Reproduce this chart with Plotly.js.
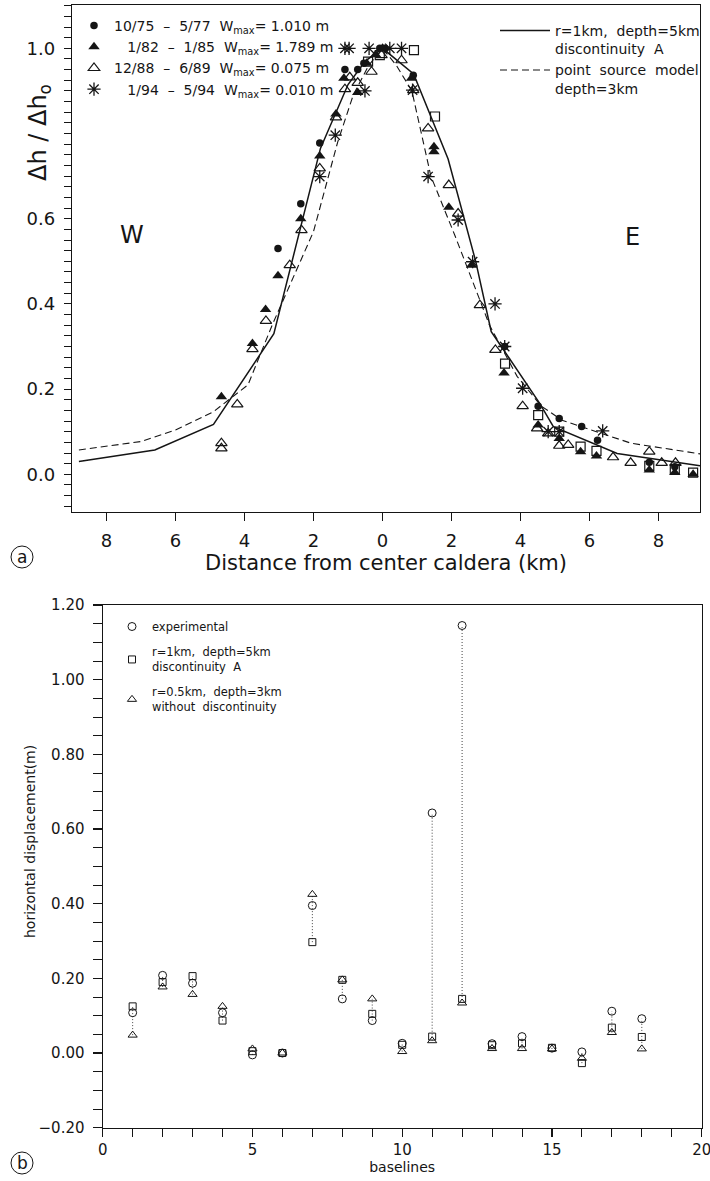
<!DOCTYPE html>
<html><head><meta charset="utf-8">
<script src="https://cdn.plot.ly/plotly-3.0.1.min.js"></script>
<style>html,body{margin:0;padding:0;background:#fff}</style>
</head><body><div id="chart" style="width:710px;height:1181px"></div>
<script>
// ---------- Panel (a): normalised uplift profile ----------
const circX = [-3.03, -2.37, -1.82, -1.09, -0.72, -0.54, -0.08, 0.07, 0.89, 3.54, 4.51, 5.12, 5.77, 6.23, 7.73, 8.47];
const circY = [0.53, 0.635, 0.778, 0.95, 0.95, 0.965, 1.0, 1.0, 0.937, 0.30, 0.16, 0.131, 0.112, 0.08, 0.028, 0.018];

const ftriX = [-4.67, -3.77, -3.39, -3.03, -2.37, -1.82, -1.35, -1.12, -0.72, -0.46, -0.2, 0.0, 0.84, 1.49, 1.49, 1.92, 2.58, 3.52, 4.51, 5.12, 5.74, 6.2, 7.73, 8.47, 9.0];
const ftriY = [0.182, 0.307, 0.387, 0.466, 0.60, 0.747, 0.846, 0.93, 0.896, 0.965, 0.985, 1.0, 0.93, 0.769, 0.757, 0.627, 0.491, 0.238, 0.116, 0.084, 0.053, 0.043, 0.01, 0.004, 0.0];

const otriX = [-4.67, -4.67, -4.21, -3.77, -3.38, -2.69, -2.35, -1.82, -1.35, -1.09, -0.95, -0.72, -0.32, -0.03, 0.55, 0.89, 1.32, 1.92, 2.19, 2.82, 3.27, 4.06, 4.48, 4.8, 5.12, 5.38, 6.68, 7.19, 7.73, 8.09, 8.49];
const otriY = [0.073, 0.061, 0.164, 0.294, 0.36, 0.491, 0.573, 0.718, 0.838, 0.904, 0.932, 0.919, 0.945, 0.984, 0.972, 0.902, 0.812, 0.679, 0.612, 0.397, 0.292, 0.160, 0.108, 0.096, 0.067, 0.069, 0.04, 0.027, 0.053, 0.027, 0.027];

const astX = [-1.09, -0.97, -0.39, -0.51, -1.37, -1.82, 0.21, 0.55, 0.87, 1.32, 2.19, 2.61, 3.26, 3.54, 4.06, 4.8, 5.12, 6.38];
const astY = [1.0, 1.0, 1.0, 0.9, 0.796, 0.699, 1.0, 1.0, 0.902, 0.699, 0.597, 0.499, 0.40, 0.30, 0.202, 0.1, 0.10, 0.102];

const sqX = [-0.42, -0.08, 0.91, 1.52, 3.55, 4.51, 5.12, 5.74, 6.2, 7.73, 8.47, 9.0];
const sqY = [0.969, 0.984, 0.996, 0.84, 0.26, 0.139, 0.10, 0.065, 0.055, 0.02, 0.012, 0.004];

const modelAX = [-8.8, -6.6, -4.9, -3.15, -1.8, -1.0, -0.5, 0, 0.9, 1.9, 2.7, 3.15, 4.55, 4.95, 6.8, 9.2];
const modelAY = [0.03, 0.057, 0.117, 0.33, 0.765, 0.915, 0.97, 1.0, 0.94, 0.74, 0.50, 0.335, 0.167, 0.112, 0.049, 0.02];

const pointX = [-8.8, -7.0, -6.0, -4.9, -3.9, -3.2, -2.0, -1.3, -0.85, -0.4, 0, 0.4, 0.85, 1.4, 2.1, 3.1, 3.9, 4.6, 5.2, 7.2, 9.2];
const pointY = [0.057, 0.077, 0.104, 0.147, 0.21, 0.35, 0.57, 0.78, 0.89, 0.96, 1.0, 0.96, 0.90, 0.70, 0.56, 0.35, 0.23, 0.16, 0.127, 0.073, 0.048];

const distTicks = [-8, -6, -4, -2, 0, 2, 4, 6, 8];
const distTickText = ['8', '6', '4', '2', '0', '2', '4', '6', '8'];
const ratioTicks = [0, 0.2, 0.4, 0.6, 1.0];
const ratioTickText = ['0.0', '0.2', '0.4', '0.6', '1.0'];

const periodLabels = [
  '10/75\u00a0\u00a0–\u00a0\u00a05/77\u00a0\u00a0W<sub>max</sub>=\u00a01.010\u00a0m',
  '\u00a0\u00a0\u00a01/82\u00a0\u00a0–\u00a0\u00a01/85\u00a0\u00a0W<sub>max</sub>=\u00a01.789\u00a0m',
  '12/88\u00a0\u00a0–\u00a0\u00a06/89\u00a0\u00a0W<sub>max</sub>=\u00a00.075\u00a0m',
  '\u00a0\u00a0\u00a01/94\u00a0\u00a0–\u00a0\u00a05/94\u00a0\u00a0W<sub>max</sub>=\u00a00.010\u00a0m'
];
const modelLabels = [
  'r=1km,\u00a0\u00a0depth=5km<br>discontinuity\u00a0\u00a0A',
  'point\u00a0\u00a0source\u00a0\u00a0model<br>depth=3km'
];

// ---------- Panel (b): horizontal displacement per baseline ----------
const baselines = [1, 2, 3, 4, 5, 6, 7, 8, 9, 10, 11, 12, 13, 14, 15, 16, 17, 18];
const experimental = [0.108, 0.208, 0.187, 0.108, -0.005, 0.0, 0.395, 0.145, 0.087, 0.026, 0.643, 1.145, 0.025, 0.044, 0.013, 0.003, 0.112, 0.092];
const modelDiscA = [0.125, 0.19, 0.206, 0.087, 0.005, 0.0, 0.297, 0.196, 0.105, 0.022, 0.044, 0.145, 0.021, 0.026, 0.014, -0.027, 0.068, 0.043];
const modelNoDisc = [0.048, 0.177, 0.157, 0.125, 0.011, 0.0, 0.425, 0.196, 0.145, 0.004, 0.033, 0.134, 0.012, 0.012, 0.011, -0.014, 0.055, 0.011];
const bLabels = [
  'experimental',
  'r=1km,\u00a0\u00a0depth=5km<br>discontinuity\u00a0\u00a0A',
  'r=0.5km,\u00a0\u00a0depth=3km<br>without\u00a0\u00a0discontinuity'
];

// dotted connectors between the lowest and highest value of each baseline
const connX = [], connY = [];
baselines.forEach((b, i) => {
  const v = [experimental[i], modelDiscA[i], modelNoDisc[i]];
  connX.push(b, b, null);
  connY.push(Math.min(...v), Math.max(...v), null);
});

// minor tick positions for panel (a) y axis (every 0.025)
const ratioMinor = [];
for (let k = -3; k <= 44; k++) ratioMinor.push(+(k * 0.025).toFixed(3));

const INK = '#151515';
const FONT = 'DejaVu Sans, Verdana, sans-serif';
const W = 710, H = 1181;
const px = v => v / W, py = v => 1 - v / H;

const traces = [
  {x: modelAX, y: modelAY, type: 'scatter', mode: 'lines', name: modelLabels[0], legend: 'legend2',
   line: {color: INK, width: 1.5}, xaxis: 'x', yaxis: 'y'},
  {x: pointX, y: pointY, type: 'scatter', mode: 'lines', name: modelLabels[1], legend: 'legend2',
   line: {color: INK, width: 1.1, dash: '7px,4px'}, xaxis: 'x', yaxis: 'y'},
  {x: sqX, y: sqY, type: 'scatter', mode: 'markers', showlegend: false,
   marker: {symbol: 'square-open', size: 9, color: INK, line: {width: 1.2, color: INK}}},
  {x: circX, y: circY, type: 'scatter', mode: 'markers', name: periodLabels[0], legend: 'legend',
   marker: {symbol: 'circle', size: 7.5, color: INK}},
  {x: ftriX, y: ftriY, type: 'scatter', mode: 'markers', name: periodLabels[1], legend: 'legend',
   marker: {symbol: 'triangle-up', size: 10, color: INK}},
  {x: otriX, y: otriY, type: 'scatter', mode: 'markers', name: periodLabels[2], legend: 'legend',
   marker: {symbol: 'triangle-up-open', size: 10, color: INK, line: {width: 1.2, color: INK}}},
  {x: astX, y: astY, type: 'scatter', mode: 'markers', name: periodLabels[3], legend: 'legend',
   marker: {symbol: 'asterisk-open', size: 11, color: INK, line: {width: 1.3, color: INK}}},

  {x: connX, y: connY, type: 'scatter', mode: 'lines', showlegend: false, xaxis: 'x2', yaxis: 'y2',
   line: {color: '#444', width: 1, dash: '1px,2px'}, connectgaps: false},
  {x: baselines, y: experimental, type: 'scatter', mode: 'markers', name: bLabels[0], legend: 'legend3',
   legendgroup: 'g1', xaxis: 'x2', yaxis: 'y2',
   marker: {symbol: 'circle-open', size: 8, color: INK, line: {width: 1, color: INK}}},
  {x: baselines, y: modelDiscA, type: 'scatter', mode: 'markers', name: bLabels[1], legend: 'legend3',
   legendgroup: 'g2', xaxis: 'x2', yaxis: 'y2',
   marker: {symbol: 'square-open', size: 7, color: INK, line: {width: 1, color: INK}}},
  {x: baselines, y: modelNoDisc, type: 'scatter', mode: 'markers', name: bLabels[2], legend: 'legend3',
   legendgroup: 'g3', xaxis: 'x2', yaxis: 'y2',
   marker: {symbol: 'triangle-up-open', size: 8, color: INK, line: {width: 1, color: INK}}}
];

const axisBase = {showline: true, mirror: true, linecolor: INK, linewidth: 1.2, showgrid: false, zeroline: false,
  ticks: 'outside', tickcolor: INK, tickwidth: 1.1};

const layout = {
  width: W, height: H, margin: {l: 0, r: 0, t: 0, b: 0},
  paper_bgcolor: '#fff', plot_bgcolor: '#fff',
  font: {family: FONT, color: INK},
  xaxis: Object.assign({}, axisBase, {
    domain: [px(72), px(700)], range: [-9.0, 9.2], anchor: 'y',
    tickmode: 'array', tickvals: distTicks, ticktext: distTickText, ticklen: 8, ticklabelstandoff: 4,
    tickfont: {size: 18},
    title: {text: 'Distance from center caldera (km)', font: {size: 21}, standoff: 3}
  }),
  yaxis: Object.assign({}, axisBase, {
    domain: [py(512), py(5)], range: [-0.0885, 1.1017], anchor: 'x',
    tickmode: 'array', tickvals: ratioTicks, ticktext: ratioTickText,
    ticklen: 7, ticklabelstandoff: 5, tickfont: {size: 18},
    minor: {tickmode: 'array', tickvals: ratioMinor, ticks: 'outside', ticklen: 7, tickcolor: INK, tickwidth: 1}
  }),
  xaxis2: Object.assign({}, axisBase, {
    domain: [px(102.7), px(701.7)], range: [0, 20], anchor: 'y2',
    tickmode: 'linear', tick0: 0, dtick: 5, ticklen: 8, tickfont: {size: 15}, ticklabeloverflow: 'allow',
    minor: {dtick: 1, tick0: 0, ticks: 'outside', ticklen: 8, tickcolor: INK, tickwidth: 1},
    title: {text: 'baselines', font: {size: 14}, standoff: 2}
  }),
  yaxis2: Object.assign({}, axisBase, {
    domain: [py(1127.7), py(605)], range: [-0.2, 1.2], anchor: 'x2',
    tickmode: 'linear', tick0: 0, dtick: 0.2, tickformat: '.2f', ticklen: 9, ticklabelstandoff: 5,
    tickfont: {size: 15},
    minor: {dtick: 0.05, tick0: 0, ticks: 'outside', ticklen: 9, tickcolor: INK, tickwidth: 1}
  }),
  showlegend: true,
  legend: {x: px(74), y: py(10), xanchor: 'left', yanchor: 'top', bgcolor: 'rgba(0,0,0,0)',
    font: {size: 14}, traceorder: 'normal', tracegroupgap: 0},
  legend2: {x: px(495), y: py(15), xanchor: 'left', yanchor: 'top', bgcolor: 'rgba(0,0,0,0)',
    font: {size: 14}, valign: 'top', traceorder: 'normal', itemwidth: 50},
  legend3: {x: px(112), y: py(612), xanchor: 'left', yanchor: 'top', bgcolor: 'rgba(0,0,0,0)',
    font: {size: 11.5}, traceorder: 'grouped', tracegroupgap: 7},
  annotations: [
    {xref: 'paper', yref: 'paper', x: px(40), y: py(133), text: 'Δh\u00a0/\u00a0Δh<sub>o</sub>', textangle: -90,
     showarrow: false, font: {size: 24}, xanchor: 'center', yanchor: 'middle'},
    {xref: 'paper', yref: 'paper', x: px(132), y: py(235), text: 'W', showarrow: false,
     font: {size: 24}, xanchor: 'center', yanchor: 'middle'},
    {xref: 'paper', yref: 'paper', x: px(632), y: py(237), text: 'E', showarrow: false,
     font: {size: 24}, xanchor: 'center', yanchor: 'middle'},
    {xref: 'paper', yref: 'paper', x: px(30), y: py(842), text: 'horizontal displacement(m)', textangle: -90,
     showarrow: false, font: {size: 14}, xanchor: 'center', yanchor: 'middle'},
    {xref: 'paper', yref: 'paper', x: px(22), y: py(557), text: 'a', showarrow: false,
     font: {size: 17}, xanchor: 'center', yanchor: 'middle'},
    {xref: 'paper', yref: 'paper', x: px(22), y: py(1163), text: 'b', showarrow: false,
     font: {size: 17}, xanchor: 'center', yanchor: 'middle'}
  ],
  shapes: [
    {type: 'circle', xref: 'paper', yref: 'paper', x0: px(11), x1: px(33), y0: py(568), y1: py(546),
     line: {color: INK, width: 1}},
    {type: 'circle', xref: 'paper', yref: 'paper', x0: px(11), x1: px(33), y0: py(1174), y1: py(1152),
     line: {color: INK, width: 1}}
  ]
};

Plotly.newPlot('chart', traces, layout, {displayModeBar: false, staticPlot: true});
</script></body></html>
